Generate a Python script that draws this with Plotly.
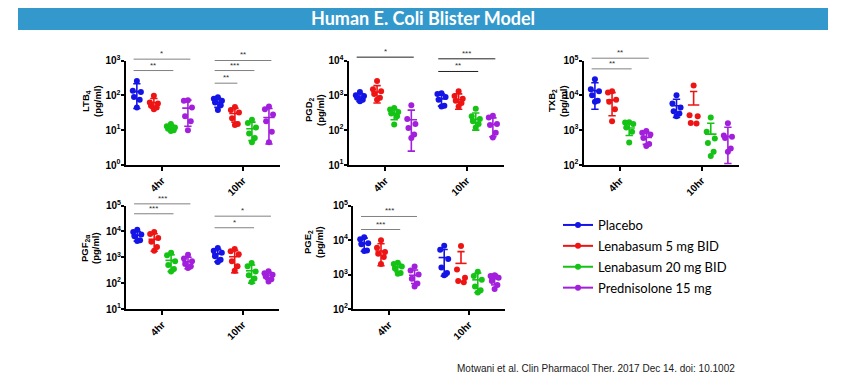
import plotly.graph_objects as go

# ---------------- data ----------------
GROUPS = ["Placebo", "Lenabasum 5 mg BID", "Lenabasum 20 mg BID", "Prednisolone 15 mg"]
TIMEPOINTS = ["4hr", "10hr"]

# LTB4 (pg/ml): points per group, mean and SD per [timepoint][group]
LTB4_4HR = [[260, 135, 125, 90, 75, 45], [97, 62, 58, 50, 45, 40], [15, 13, 12, 11, 10, 9.5], [72, 70, 45, 25, 18, 10]]
LTB4_10HR = [[88, 80, 70, 62, 52, 38], [46, 38, 32, 22, 15, 14], [20, 16, 12, 8, 6, 4.5], [48, 40, 28, 18, 9, 4.5]]
LTB4_MEAN = [[128, 62, 12, 43], [63, 30, 11, 23]]
LTB4_SD = [[86, 19, 2, 30], [18, 13, 6, 19]]
LTB4_DECADES = [0, 1, 2, 3]
LTB4_SIG = [(0, 0, 3, "*"), (0, 0, 2, "**"), (1, 0, 3, "**"), (1, 0, 2, "***"), (1, 0, 1, "**")]

# PGD2
PGD2_4HR = [[1250, 1000, 950, 850, 750, 680], [2600, 1500, 1300, 1100, 850, 750], [430, 390, 330, 300, 250, 145], [520, 210, 150, 115, 75, 60]]
PGD2_10HR = [[1150, 1100, 900, 750, 500, 480], [1300, 950, 800, 700, 600, 480], [410, 250, 210, 180, 150, 120], [260, 230, 150, 140, 85, 62]]
PGD2_MEAN = [[900, 1250, 300, 200], [790, 750, 205, 145]]
PGD2_SD = [[230, 650, 100, 175], [300, 350, 105, 80]]
PGD2_DECADES = [1, 2, 3, 4]
PGD2_SIG = [(0, 0, 3, "*"), (1, 0, 3, "***"), (1, 0, 2, "**")]

# TXB2
TXB2_4HR = [[29000, 15000, 13000, 10000, 7000, 6500], [13000, 12000, 7500, 6500, 4000, 1800], [1700, 1650, 1500, 1200, 900, 440], [950, 850, 750, 600, 400, 350]]
TXB2_10HR = [[10000, 5800, 4500, 3500, 3000, 2500], [19000, 2700, 2500, 1600, 1550], [2300, 900, 580, 430, 240, 180], [1580, 700, 650, 600, 300, 240]]
TXB2_MEAN = [[13500, 7300, 1150, 620], [5000, 5300, 770, 660]]
TXB2_SD = [[9500, 4700, 450, 230], [2700, 7600, 810, 550]]
TXB2_DECADES = [2, 3, 4, 5]
TXB2_SIG = [(0, 0, 3, "**"), (0, 0, 2, "**")]

# PGF2alpha
PGF_4HR = [[11500, 9500, 7500, 6500, 4500, 4200], [9500, 8000, 5500, 4000, 2500, 1800], [1500, 1200, 700, 500, 350, 280], [1250, 900, 700, 550, 450, 380]]
PGF_10HR = [[2300, 1800, 1500, 1100, 800, 650], [2100, 1700, 1300, 700, 450, 300], [600, 450, 280, 200, 150, 110], [290, 240, 210, 180, 140, 115]]
PGF_MEAN = [[7000, 4900, 760, 680], [1350, 1050, 300, 200]]
PGF_SD = [[2800, 3200, 480, 320], [680, 800, 200, 60]]
PGF_DECADES = [1, 2, 3, 4, 5]
PGF_SIG = [(0, 0, 3, "***"), (0, 0, 2, "***"), (1, 0, 3, "*"), (1, 0, 2, "*")]

# PGE2
PGE2_4HR = [[12000, 10500, 8000, 7500, 5000, 4800], [9800, 6000, 4500, 4000, 3200, 2000], [2200, 2000, 1700, 1500, 1100, 1050], [1700, 1300, 1000, 750, 550, 450]]
PGE2_10HR = [[6800, 5200, 2800, 1600, 1100, 950], [6700, 1400, 800, 650, 600], [1200, 900, 700, 450, 350, 300], [950, 900, 800, 650, 500, 380]]
PGE2_MEAN = [[8000, 4800, 1650, 950], [3100, 2100, 700, 750]]
PGE2_SD = [[3300, 3000, 450, 400], [2200, 2500, 400, 250]]
PGE2_DECADES = [2, 3, 4, 5]
PGE2_SIG = [(0, 0, 3, "***"), (0, 0, 2, "***")]

TITLE = "Human E. Coli Blister Model"
CITATION = "Motwani et al. Clin Pharmacol Ther. 2017 Dec 14. doi: 10.1002"

# ---------------- style ----------------
COLORS = ["#1414E6", "#EE1414", "#14C314", "#A21FDC"]
OFFSETS = [-0.31, -0.10, 0.11, 0.32]
JITTER = [0.0, -0.05, 0.05, -0.035, 0.035, 0.0]
MEAN_HW = 0.07
CAP_HW = 0.045
PAGE_PAD = 8                      # default body margin of the html page
W, H = 857 - 2 * PAGE_PAD, 387 - 2 * PAGE_PAD
FONT = "Liberation Sans, Arial, sans-serif"


def px(x):
    return (x - PAGE_PAD) / W


def py(y):
    return 1 - (y - PAGE_PAD) / H


def dom_x(a, b):
    return [px(a), px(b)]


def dom_y(top, bottom):
    return [py(bottom), py(top)]


PANELS = [
    dict(name="LTB<sub>4</sub>", p4=LTB4_4HR, p10=LTB4_10HR, mean=LTB4_MEAN, sd=LTB4_SD,
         dec=LTB4_DECADES, sig=LTB4_SIG, sig_y=[1.013, 0.904, 1.0, 0.904, 0.783],
         xd=dom_x(125.5, 279.5), yd=dom_y(60.5, 165), sigcol="#808080", tpos=(86, 97, 101)),
    dict(name="PGD<sub>2</sub>", p4=PGD2_4HR, p10=PGD2_10HR, mean=PGD2_MEAN, sd=PGD2_SD,
         dec=PGD2_DECADES, sig=PGD2_SIG, sig_y=[1.032, 1.016, 0.895],
         xd=dom_x(348.5, 503.5), yd=dom_y(60.5, 165), sigcol="#202020", tpos=(309, 320, 110)),
    dict(name="TXB<sub>2</sub>", p4=TXB2_4HR, p10=TXB2_10HR, mean=TXB2_MEAN, sd=TXB2_SD,
         dec=TXB2_DECADES, sig=TXB2_SIG, sig_y=[1.022, 0.92],
         xd=dom_x(583.5, 738.5), yd=dom_y(60.5, 165), sigcol="#808080", tpos=(552, 563, 101)),
    dict(name="PGF<sub>2α</sub>", p4=PGF_4HR, p10=PGF_10HR, mean=PGF_MEAN, sd=PGF_SD,
         dec=PGF_DECADES, sig=PGF_SIG, sig_y=[1.016, 0.92, 0.897, 0.785],
         xd=dom_x(126, 279), yd=dom_y(205.5, 309), sigcol="#808080", tpos=(85, 96, 248)),
    dict(name="PGE<sub>2</sub>", p4=PGE2_4HR, p10=PGE2_10HR, mean=PGE2_MEAN, sd=PGE2_SD,
         dec=PGE2_DECADES, sig=PGE2_SIG, sig_y=[0.894, 0.768],
         xd=dom_x(353, 505), yd=dom_y(205.5, 309), sigcol="#808080", tpos=(308, 319, 242)),
]

fig = go.Figure()
shapes = []
annotations = []
layout_axes = {}
title_font = dict(size=9.5, family=FONT, color="black", weight="bold")

for i, P in enumerate(PANELS):
    n = "" if i == 0 else str(i + 1)
    xa, ya = "x" + n, "y" + n
    for g in range(4):
        xs, ys = [], []
        for t, pts in enumerate([P["p4"], P["p10"]]):
            for k, v in enumerate(pts[g]):
                xs.append(t + OFFSETS[g] + JITTER[k % len(JITTER)])
                ys.append(v)
        fig.add_trace(go.Scatter(x=xs, y=ys, mode="markers", xaxis=xa, yaxis=ya,
                                 marker=dict(color=COLORS[g], size=6), showlegend=False,
                                 hoverinfo="skip", cliponaxis=False))
        lx, ly = [], []
        for t in range(2):
            m = P["mean"][t][g]
            s = P["sd"][t][g]
            xc = t + OFFSETS[g]
            hi, lo = m + s, m - s
            lx += [xc - MEAN_HW, xc + MEAN_HW, None]
            ly += [m, m, None]
            lx += [xc, xc, None]
            ly += [lo if lo > 0 else m, hi, None]
            lx += [xc - CAP_HW, xc + CAP_HW, None]
            ly += [hi, hi, None]
            if lo > 0:
                lx += [xc - CAP_HW, xc + CAP_HW, None]
                ly += [lo, lo, None]
        fig.add_trace(go.Scatter(x=lx, y=ly, mode="lines", xaxis=xa, yaxis=ya,
                                 line=dict(color=COLORS[g], width=1.6), showlegend=False,
                                 hoverinfo="skip"))
    for (t, g0, g1, lab), yl in zip(P["sig"], P["sig_y"]):
        x0 = t + OFFSETS[g0] - 0.04
        x1 = t + OFFSETS[g1] + 0.03
        shapes.append(dict(type="line", xref=xa, yref=ya + " domain", x0=x0, x1=x1, y0=yl, y1=yl,
                           line=dict(color=P["sigcol"], width=1)))
        annotations.append(dict(xref=xa, yref=ya + " domain", x=(x0 + x1) / 2, y=yl, text=lab,
                                showarrow=False, yanchor="bottom", yshift=-1,
                                font=dict(size=8, color="#303030", family=FONT)))
    x1t, x2t, yt = P["tpos"]
    for txt, xt in ((P["name"], x1t), ("(pg/ml)", x2t)):
        annotations.append(dict(xref="paper", yref="paper", x=px(xt), y=py(yt), text=txt,
                                textangle=-90, showarrow=False, xanchor="center", yanchor="middle",
                                font=title_font))
    layout_axes["xaxis" + n] = dict(
        domain=P["xd"], anchor=ya, range=[-0.45, 1.45], tickvals=[0, 1], ticktext=TIMEPOINTS,
        tickangle=-45, showline=True, linewidth=2, linecolor="black", ticks="outside",
        ticklen=4, tickwidth=1.5, tickcolor="black", showgrid=False, zeroline=False,
        automargin=False,
        tickfont=dict(size=10, family=FONT, color="black", weight="bold"), fixedrange=True)
    layout_axes["yaxis" + n] = dict(
        domain=P["yd"], anchor=xa, type="log", range=[P["dec"][0], P["dec"][-1]],
        tickvals=[10 ** d for d in P["dec"]], ticktext=["10<sup>%d</sup>" % d for d in P["dec"]],
        showline=True, linewidth=2, linecolor="black", ticks="outside", ticklen=3,
        tickwidth=1.5, tickcolor="black", showgrid=False, zeroline=False, automargin=False,
        ticklabelstandoff=-2,
        tickfont=dict(size=10, family=FONT, color="black", weight="bold"),
        fixedrange=True)

for g in range(4):
    fig.add_trace(go.Scatter(x=[None], y=[None], mode="lines+markers", name=GROUPS[g],
                             legendgroup="g%d" % g,
                             line=dict(color=COLORS[g], width=2),
                             marker=dict(color=COLORS[g], size=6), xaxis="x", yaxis="y"))

shapes.append(dict(type="rect", xref="paper", yref="paper", x0=px(18), x1=px(828),
                   y0=py(30), y1=py(5), fillcolor="#3399CC", line=dict(width=0), layer="below"))
annotations.append(dict(xref="paper", yref="paper", x=px(423), y=py(18), text="<b>%s</b>" % TITLE,
                        xanchor="center", yanchor="middle",
                        showarrow=False, font=dict(size=18, color="white", family="Lato")))
annotations.append(dict(xref="paper", yref="paper", x=px(455), y=py(368), text=CITATION,
                        xanchor="left", yanchor="middle", showarrow=False,
                        font=dict(size=10, color="#202020", family=FONT)))

fig.update_layout(
    width=W, height=H, margin=dict(l=0, r=0, t=0, b=0, autoexpand=False),
    paper_bgcolor="white", plot_bgcolor="white",
    shapes=shapes, annotations=annotations,
    legend=dict(x=px(558), y=py(210), xanchor="left", yanchor="top", tracegroupgap=1,
                font=dict(size=13, family="Lato", color="black"), bgcolor="rgba(0,0,0,0)"),
    **layout_axes)

fig.write_html("out.html")
